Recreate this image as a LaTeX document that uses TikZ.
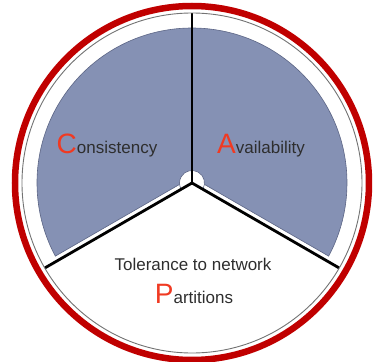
\documentclass[tikz,border=0pt]{standalone}
\usepackage{fontspec}
\setmainfont{Liberation Sans}
\usetikzlibrary{calc}
\definecolor{ringred}{HTML}{C00000}
\definecolor{capred}{HTML}{F03A22}
\definecolor{slate}{HTML}{8591B4}
\definecolor{slateedge}{HTML}{5C6585}
\definecolor{textgray}{HTML}{2E2E2E}
\newcommand{\capletter}[1]{{\color{capred}\fontsize{28}{30}\selectfont #1}}

\begin{document}
\begin{tikzpicture}[x=1pt,y=1pt,
    wedge/.style={fill=slate,draw=slateedge,line width=0.6pt},
    spoke/.style={draw=black,line width=2.8pt},
    label text/.style={anchor=base,text=textgray,font=\fontsize{17}{20}\selectfont,inner sep=0pt}]
  \useasboundingbox (-192,-179) rectangle (189,183);
  \coordinate (o) at (0,0);
  \coordinate (top) at (90:170);
  \coordinate (left) at (210:170);
  \coordinate (right) at (330:170);
  \coordinate (q) at (0,5.77);

  % the two shaded sectors
  \path[wedge] (q) -- (90:155) arc[start angle=90, end angle=208.15, radius=155] -- cycle;
  \path[wedge] (q) -- (90:155) arc[start angle=90, end angle=-28.15, radius=155] -- cycle;

  % hub
  \draw[fill=white,draw=slateedge,line width=0.6pt] (330:12.5) arc[start angle=-30, end angle=210, radius=12.5] -- (o) -- cycle;

  % spokes
  \draw[spoke,line width=2pt] (o) -- (top);
  \draw[spoke] (o) -- (left);
  \draw[spoke] (o) -- (right);

  % rims
  \draw[gray!90!black,line width=0.9pt] (o) circle[radius=170];
  \draw[ringred,line width=6.5pt] (o) circle[radius=177];

  \node[label text] (c) at (-85,29) {\capletter{C}onsistency};
  \node[label text] (a) at (69,29) {\capletter{A}vailability};
  \node[label text] (t) at (1,-87) {Tolerance to network};
  \node[label text] (p) at (2,-120) {\capletter{P}artitions};
\end{tikzpicture}
\end{document}
